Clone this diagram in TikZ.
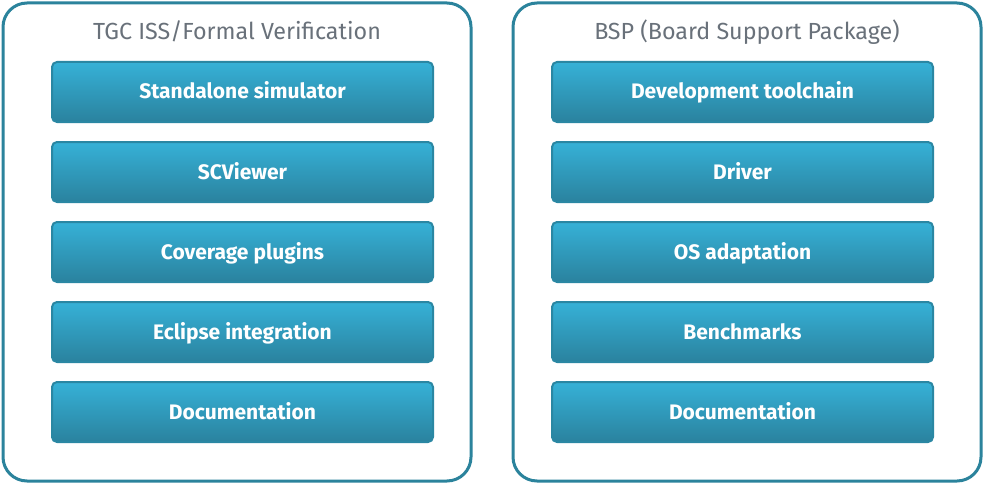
\documentclass[tikz,border=0pt]{standalone}
\usepackage{fontspec}
\setmainfont{Fira Sans}
\definecolor{frame}{HTML}{2B839C}
\definecolor{boxtop}{HTML}{36B1D7}
\definecolor{boxbot}{HTML}{2A829E}
\definecolor{boxedge}{HTML}{2A87A3}
\definecolor{titlegray}{HTML}{69717A}
\begin{document}
\begin{tikzpicture}[x=1pt,y=-1pt,
  panel/.style={draw=frame,line width=3pt,rounded corners=24pt,fill=white},
  item/.style={draw=boxedge,line width=2pt,rounded corners=5pt,top color=boxtop,bottom color=boxbot,
    minimum width=381pt,minimum height=60pt,inner sep=0pt,text=white,text height=16pt,text depth=2pt,
    font=\fontsize{21}{24}\selectfont\bfseries},
  paneltitle/.style={text=titlegray,text height=19pt,text depth=2pt,font=\fontsize{23.3}{26}\selectfont}]
\useasboundingbox (0,0) rectangle (984,484);
\draw[panel] (3,3) rectangle (471,481);
\draw[panel] (513,3) rectangle (981,481);
\node[paneltitle] (lt) at (237,31) {TGC ISS/Formal Verification};
\node[paneltitle] (rt) at (747,31) {BSP (Board Support Package)};
\node[item] (l1) at (242.5,92) {Standalone simulator};
\node[item] (l2) at (242.5,172) {SCViewer};
\node[item] (l3) at (242.5,252) {Coverage plugins};
\node[item] (l4) at (242.5,332) {Eclipse integration};
\node[item] (l5) at (242.5,412) {Documentation};
\node[item] (r1) at (742.5,92) {Development toolchain};
\node[item] (r2) at (742.5,172) {Driver};
\node[item] (r3) at (742.5,252) {OS adaptation};
\node[item] (r4) at (742.5,332) {Benchmarks};
\node[item] (r5) at (742.5,412) {Documentation};
\end{tikzpicture}
\end{document}
